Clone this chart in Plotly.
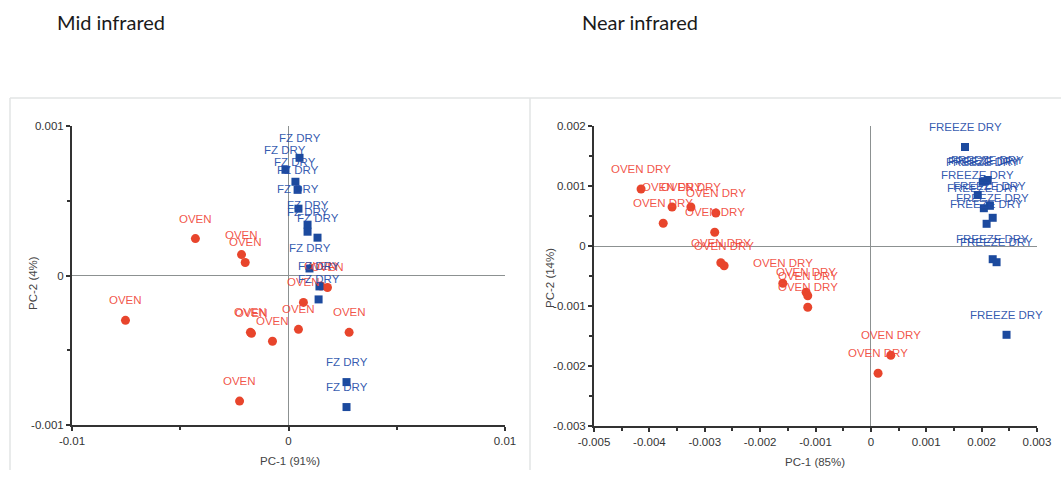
import plotly.graph_objects as go

# ---- Mid infrared PCA scores ----
mid_oven_pc1 = [-0.0043, -0.00217, -0.0020, -0.00753, -0.00171, -0.00176, -0.00074,
                -0.00226, 0.00046, 0.00069, 0.0018, 0.0015, 0.0028]
mid_oven_pc2 = [0.000247, 0.00014, 0.000087, -0.0003, -0.000387, -0.00038, -0.00044,
                -0.00084, -0.00036, -0.00018, -0.00008, -0.00007, -0.00038]
mid_oven_label = "OVEN"

mid_fz_pc1 = [0.00051, -0.00014, 0.00032, 0.00042, 0.00046, 0.00088, 0.00088,
              0.00134, 0.00097, 0.00143, 0.00139, 0.00268, 0.00268]
mid_fz_pc2 = [0.000787, 0.000707, 0.000627, 0.000573, 0.000447, 0.00034, 0.000293,
              0.000253, 0.000047, -0.000073, -0.00016, -0.000713, -0.00088]
mid_fz_label = "FZ DRY"

# ---- Near infrared PCA scores ----
near_oven_pc1 = [-0.00415, -0.00375, -0.00359, -0.00325, -0.0028, -0.00282, -0.00271,
                 -0.00265, -0.00159, -0.00117, -0.00114, -0.00114, 0.00036, 0.00013]
near_oven_pc2 = [0.00095, 0.00038, 0.00065, 0.00065, 0.00055, 0.00023, -0.00028,
                 -0.00033, -0.00062, -0.00077, -0.00083, -0.00102, -0.00182, -0.00212]
near_oven_label = "OVEN DRY"

near_fz_pc1 = [0.0017, 0.00206, 0.00211, 0.00202, 0.00193, 0.00215, 0.00204,
               0.0022, 0.00209, 0.0022, 0.00227, 0.00245]
near_fz_pc2 = [0.00165, 0.00108, 0.0011, 0.00107, 0.00085, 0.00067, 0.00063,
               0.00047, 0.00037, -0.00022, -0.00027, -0.00148]
near_fz_label = "FREEZE DRY"

# ---- axis ticks ----
mid_x_ticks = [-0.01, 0, 0.01]
mid_x_text = ["-0.01", "0", "0.01"]
mid_y_ticks = [-0.001, 0, 0.001]
mid_y_text = ["-0.001", "0", "0.001"]
near_x_ticks = [-0.005, -0.004, -0.003, -0.002, -0.001, 0, 0.001, 0.002, 0.003]
near_x_text = ["-0.005", "-0.004", "-0.003", "-0.002", "-0.001", "0", "0.001", "0.002", "0.003"]
near_y_ticks = [-0.003, -0.002, -0.001, 0, 0.001, 0.002]
near_y_text = ["-0.003", "-0.002", "-0.001", "0", "0.001", "0.002"]

RED = "#e8452c"
RED_TXT = "rgba(240,70,55,0.92)"
BLUE = "#1c4a9e"
BLUE_TXT = "rgba(35,75,168,0.92)"
AXIS = "#333333"
ZERO = "#8c9191"
FONT = "Liberation Sans, Arial, sans-serif"

fig = go.Figure()


def add_group(xs, ys, label, xa, ya, marker_color, text_color, symbol, size):
    fig.add_trace(go.Scatter(
        x=xs, y=ys, mode="markers", xaxis=xa, yaxis=ya, showlegend=False,
        marker=dict(color=marker_color, symbol=symbol, size=size, line=dict(width=0)),
    ))
    for x, y in zip(xs, ys):
        fig.add_annotation(
            x=x, y=y, xref=xa, yref=ya, text=label, showarrow=False, yshift=20,
            font=dict(family=FONT, size=11.5, color=text_color),
        )


add_group(mid_oven_pc1, mid_oven_pc2, mid_oven_label, "x", "y", RED, RED_TXT, "circle", 9)
add_group(mid_fz_pc1, mid_fz_pc2, mid_fz_label, "x", "y", BLUE, BLUE_TXT, "square", 8)
add_group(near_oven_pc1, near_oven_pc2, near_oven_label, "x2", "y2", RED, RED_TXT, "circle", 9)
add_group(near_fz_pc1, near_fz_pc2, near_fz_label, "x2", "y2", BLUE, BLUE_TXT, "square", 8)

W, H = 1061, 482


def px(v):
    return v / W


def py(v):
    return 1 - v / H


def axis_style(rng, tickvals, ticktext, minor_vals, domain, anchor):
    return dict(
        range=rng, domain=domain, anchor=anchor, automargin=False,
        tickvals=tickvals, ticktext=ticktext,
        ticks="outside", ticklen=4, tickwidth=1.5, tickcolor=AXIS,
        showline=True, linecolor=AXIS, linewidth=2,
        zeroline=True, zerolinecolor=ZERO, zerolinewidth=1.2,
        showgrid=False,
        tickfont=dict(family=FONT, size=11.5, color="#333333"),
        minor=dict(tickvals=minor_vals, ticks="outside", ticklen=3,
                   tickcolor=AXIS, tickwidth=1.5, showgrid=False),
    )


mid_x_minor = [-0.005, 0.005]
mid_y_minor = [-0.0005, 0.0005]
near_x_minor = [-0.0045, -0.0035, -0.0025, -0.0015, -0.0005, 0.0005, 0.0015, 0.0025]
near_y_minor = [-0.0025, -0.0015, -0.0005, 0.0005, 0.0015]

fig.update_layout(
    width=W, height=H,
    margin=dict(l=0, r=0, t=0, b=0, autoexpand=False),
    paper_bgcolor="white", plot_bgcolor="white",
    xaxis=axis_style([-0.01, 0.01], mid_x_ticks, mid_x_text, mid_x_minor,
                     [px(72), px(505)], "y"),
    yaxis=axis_style([-0.001, 0.001], mid_y_ticks, mid_y_text, mid_y_minor,
                     [py(425), py(126)], "x"),
    xaxis2=axis_style([-0.005, 0.003], near_x_ticks, near_x_text, near_x_minor,
                      [px(594), px(1037)], "y2"),
    yaxis2=axis_style([-0.003, 0.002], near_y_ticks, near_y_text, near_y_minor,
                      [py(426), py(126)], "x2"),
)

# panel titles and axis titles
titles = [
    dict(text="Mid infrared", x=px(55), y=py(22), xanchor="left"),
    dict(text="Near infrared", x=px(580), y=py(22), xanchor="left"),
]
for t in titles:
    fig.add_annotation(xref="paper", yref="paper", showarrow=False, yanchor="middle",
                       font=dict(family="Lato, sans-serif", size=20, color="#1a1a1a"), **t)

axis_titles = [
    dict(text="PC-1 (91%)", x=px(290), y=py(461), textangle=0),
    dict(text="PC-1 (85%)", x=px(815), y=py(462), textangle=0),
    dict(text="PC-2 (4%)", x=px(33), y=py(283), textangle=-90),
    dict(text="PC-2 (14%)", x=px(550), y=py(278), textangle=-90),
]
for t in axis_titles:
    fig.add_annotation(xref="paper", yref="paper", showarrow=False,
                       xanchor="center", yanchor="middle",
                       font=dict(family=FONT, size=11.5, color="#444444"), **t)

# light frame around the two panels
frame = "#e2e4e4"
fig.add_shape(type="line", xref="paper", yref="paper", x0=px(10), x1=1, y0=py(98), y1=py(98),
              line=dict(color=frame, width=1.5))
fig.add_shape(type="line", xref="paper", yref="paper", x0=px(10), x1=px(10), y0=py(98), y1=py(470),
              line=dict(color=frame, width=1.5))
fig.add_shape(type="line", xref="paper", yref="paper", x0=px(530), x1=px(530), y0=py(98), y1=py(470),
              line=dict(color=frame, width=1.5))

fig.write_html("out.html")
